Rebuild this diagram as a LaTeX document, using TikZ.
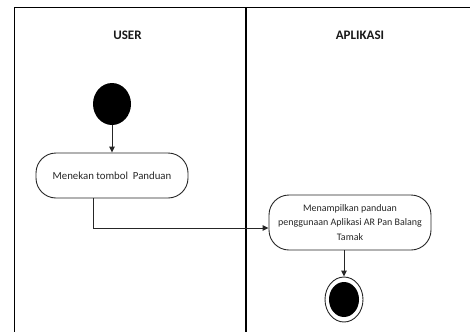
\documentclass[tikz,border=0pt]{standalone}
\usepackage{fontspec}
\setmainfont{Carlito}
\usetikzlibrary{positioning,arrows.meta,shapes.geometric}

\tikzset{
  aktivitas/.style={draw=black!85,line width=0.9pt,rounded corners=20pt,align=center,
    font=\fontsize{10}{14.5}\selectfont,text=black!85,inner sep=2pt},
  judul/.style={font=\fontsize{13}{15}\selectfont\bfseries,text=black!90},
  alur/.style={draw=black!85,line width=0.9pt,->}
}

\begin{document}
\begin{tikzpicture}[x=1pt,y=-1pt,>={Triangle[length=6pt,width=5.5pt]}]
  \useasboundingbox (0,0) rectangle (470,332);
  \draw[line width=1.3pt] (470,7.5) -- (14.5,7.5) -- (14.5,332);
  \draw[line width=1.3pt] (246,7.5) -- (246,332);
  \node[judul] (user) at (127.5,35.5) {USER};
  \node[judul] (aplikasi) at (360,35.5) {APLIKASI};

  \node[fill=black,ellipse,minimum width=38pt,minimum height=42pt,inner sep=0pt] (awal) at (112,104) {};
  \node[aktivitas,font=\fontsize{10.8}{14.5}\selectfont,minimum width=152pt,minimum height=45pt] (tombol) at (112,175.5) {Menekan tombol~ Panduan};
  \node[aktivitas,minimum width=162pt,minimum height=55pt] (panduan) at (350,222.5)
    {Menampilkan panduan\\penggunaan Aplikasi AR Pan Balang\\Tamak};
  \node[draw=black!85,line width=0.9pt,ellipse,minimum width=38pt,minimum height=45pt,inner sep=0pt] (akhir) at (344,299.5) {};
  \fill (akhir.center) ellipse (15pt and 17.5pt);

  \draw[alur] (awal) -- (tombol);
  \draw[alur] ([xshift=-19pt]tombol.south) |- ([yshift=-5.5pt]panduan.west);
  \draw[alur] (panduan.south -| akhir.north) -- (akhir);
\end{tikzpicture}
\end{document}
